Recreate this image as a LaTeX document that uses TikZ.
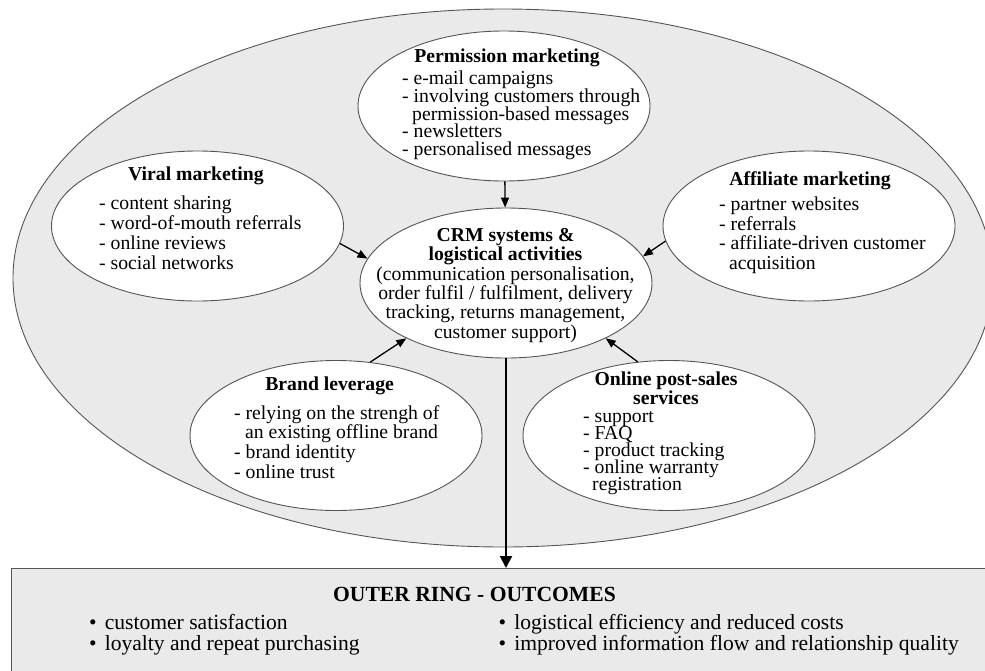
\documentclass[tikz,border=0pt]{standalone}
\usepackage{fontspec}
\setmainfont{Liberation Serif}
\usetikzlibrary{arrows.meta,shapes.geometric,positioning}
\definecolor{ringgray}{RGB}{234,234,234}
\definecolor{edgegray}{RGB}{85,85,85}
\lineskiplimit=-20pt

\begin{document}
\begin{tikzpicture}[x=1pt, y=-1pt,
       >={Triangle[length=10pt,width=8pt]},
       every node/.style={inner sep=0pt},
       blob/.style={ellipse, draw=edgegray, line width=0.9pt, fill=white,
                    minimum width=292pt, minimum height=150pt},
       blobhead/.style={anchor=base, align=center,
                    font=\fontsize{19.7}{#1}\selectfont\bfseries},
       bloblist/.style={anchor=base west, align=left,
                    font=\fontsize{19.7}{#1}\selectfont},
       outbox/.style={rectangle, draw=edgegray, line width=1pt, fill=ringgray,
                    minimum width=990pt, minimum height=120pt},
       outlist/.style={anchor=base west, align=left,
                    font=\fontsize{21.6}{21}\selectfont},
       link/.style={->, line width=1.3pt}]
	\clip (0,0) rectangle (985,670);

	%% outer ring and the outcomes box
	\draw[edgegray, fill=ringgray, line width=0.9pt] (503,278) ellipse [x radius=490pt, y radius=269pt];
	\node[outbox, anchor=north west] (outc) at (11,568) {};

	%% the six ellipses
	\node[blob] (perm) at (504,106) {};
	\node[blob] (vir) at (197.5,226) {};
	\node[blob] (aff) at (809,226) {};
	\node[blob] (crm) at (506,283) {};
	\node[blob] (brand) at (336,435.5) {};
	\node[blob] (post) at (669,435.5) {};

	%% their texts (a multi-line node sits on the baseline of its last line)
	\node[blobhead=18.5] (permh) at (507,62.5) {Permission marketing};
	\node[bloblist=17.8] (perml) at (402,155.7) {- e-mail campaigns\\- involving customers through\\\hspace*{10pt}permission-based messages\\- newsletters\\- personalised messages};

	\node[blobhead=18.5] (virh) at (196,180.5) {Viral marketing};
	\node[bloblist=20.2] (virl) at (99,269.6) {- content sharing\\- word-of-mouth referrals\\- online reviews\\- social networks};

	\node[blobhead=18.5] (affh) at (810,185) {Affiliate marketing};
	\node[bloblist=19.7] (affl) at (719,269.6) {- partner websites\\- referrals\\- affiliate-driven customer\\\hspace*{10pt}acquisition};

	\node[bloblist=19.3, anchor=base, align=center] (crmt) at (505.5,338) {\textbf{CRM systems \&}\\\textbf{logistical activities}\\(communication personalisation,\\order fulfil / fulfilment, delivery\\tracking, returns management,\\customer support)};

	\node[blobhead=18.5] (brandh) at (329.6,390) {Brand leverage};
	\node[bloblist=19.9] (brandl) at (234,478.7) {- relying on the strengh of\\\hspace*{11pt}an existing offline brand\\- brand identity\\- online trust};

	\node[blobhead=18.5] (posth) at (666,404) {Online post-sales\\services};
	\node[bloblist=17.1] (postl) at (583,490.9) {- support\\- FAQ\\- product tracking\\- online warranty\\\hspace*{9pt}registration};

	%% arrows into the CRM ellipse
	\draw[link] (perm) -- (crm);
	\draw[link] (vir.-7) -- (crm.170);
	\draw[link] (aff.186) -- (crm.11);
	\draw[link] (brand.65) -- (crm.209);
	\draw[link] (post.113) -- (crm.-29);
	\draw[line width=2pt, -{Triangle[length=12pt,width=12pt]}] (crm.south) -- (crm.south |- outc.north);

	%% outcomes
	\node[anchor=base, font=\fontsize{21.6}{21}\selectfont\bfseries] (outt) at (474.5,601) {OUTER RING - OUTCOMES};
	\node[outlist] (outl) at (89,650) {\textbullet\hspace{8pt}customer satisfaction\\\textbullet\hspace{8pt}loyalty and repeat purchasing};
	\node[outlist] (outr) at (498.5,650) {\textbullet\hspace{8pt}logistical efficiency and reduced costs\\\textbullet\hspace{8pt}improved information flow and relationship quality};
\end{tikzpicture}
\end{document}
